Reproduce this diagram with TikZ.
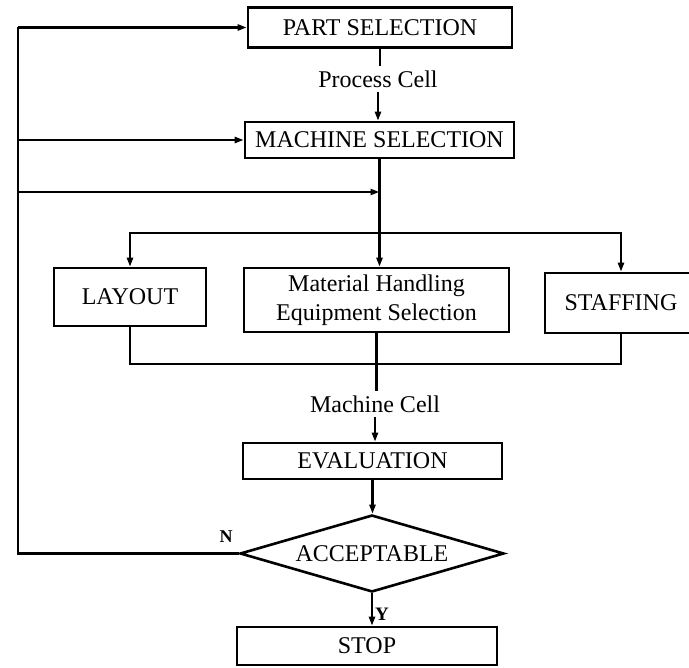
\documentclass[tikz,border=0pt]{standalone}
\usepackage{fontspec}
\setmainfont{Liberation Serif}
\usetikzlibrary{arrows.meta,shapes.geometric}
\begin{document}
\begin{tikzpicture}[x=1pt,y=-1pt,
  every node/.style={font=\fontsize{24}{29}\selectfont},
  box/.style={draw, line width=2.6pt, inner sep=0pt, align=center},
  lbl/.style={inner sep=4pt},
  line/.style={line width=2.2pt},
  arr/.style={line width=2.2pt, -{Triangle[length=9pt,width=6pt]}},
]
\useasboundingbox (0,0) rectangle (689,668);

% nodes
\node[box, minimum width=264pt, minimum height=40pt] (part) at (380,27.5) {PART SELECTION};
\node[lbl] (pc) at (378,79) {Process Cell};
\node[box, minimum width=269pt, minimum height=36pt] (mach) at (379.5,140) {MACHINE SELECTION};
\node[box, minimum width=152pt, minimum height=58pt] (layout) at (130,297) {LAYOUT};
\node[box, minimum width=265pt, minimum height=64pt] (mat) at (376.5,300) {Material Handling\\Equipment Selection};
\node[box, minimum width=152pt, minimum height=60pt] (staff) at (621,303) {STAFFING};
\node[lbl] (mc) at (375,404) {Machine Cell};
\node[box, minimum width=259pt, minimum height=36pt] (eval) at (372.5,461) {EVALUATION};
\node[draw, diamond, line width=2.6pt, inner sep=0pt, aspect=3.4,
      minimum width=264pt, minimum height=77pt] (dia) at (372,553.5) {ACCEPTABLE};
\node[box, minimum width=260pt, minimum height=38pt] (stop) at (367,646) {STOP};
\node[font=\fontsize{18}{20}\selectfont\bfseries] (nl) at (226,537) {N};
\node[font=\fontsize{19}{21}\selectfont\bfseries] (yl) at (382,614) {Y};

% coordinates
\coordinate (fb) at (18,553.5);
\coordinate (j1) at (mach.south |- 0,192);
\coordinate (br) at (mach.south |- 0,233);
\coordinate (mg) at (mat.south |- 0,364);

% main flow
\draw[line] (part.south) -- (part.south |- pc.north);
\draw[arr] (pc.south) -- (pc.south |- mach.north);
\draw[arr] (mach.south) -- (mach.south |- mat.north);
\draw[arr] (br) -| (layout.north);
\draw[arr] (br) -| (staff.north);
\draw[line] (layout.south) |- (mg) -| (staff.south);
\draw[line] (mat.south) -- (mat.south |- mc.north);
\draw[arr] (mc.south) -- (mc.south |- eval.north);
\draw[arr] (eval.south) -- (eval.south |- dia.north);
\draw[arr] (dia.south) -- (dia.south |- stop.north);

% feedback
\draw[line] (dia.west) -- (fb) -- (fb |- part.west);
\draw[arr] (fb |- part.west) -- (part.west);
\draw[arr] (fb |- mach.west) -- (mach.west);
\draw[arr] (fb |- j1) -- (j1);
\end{tikzpicture}
\end{document}
